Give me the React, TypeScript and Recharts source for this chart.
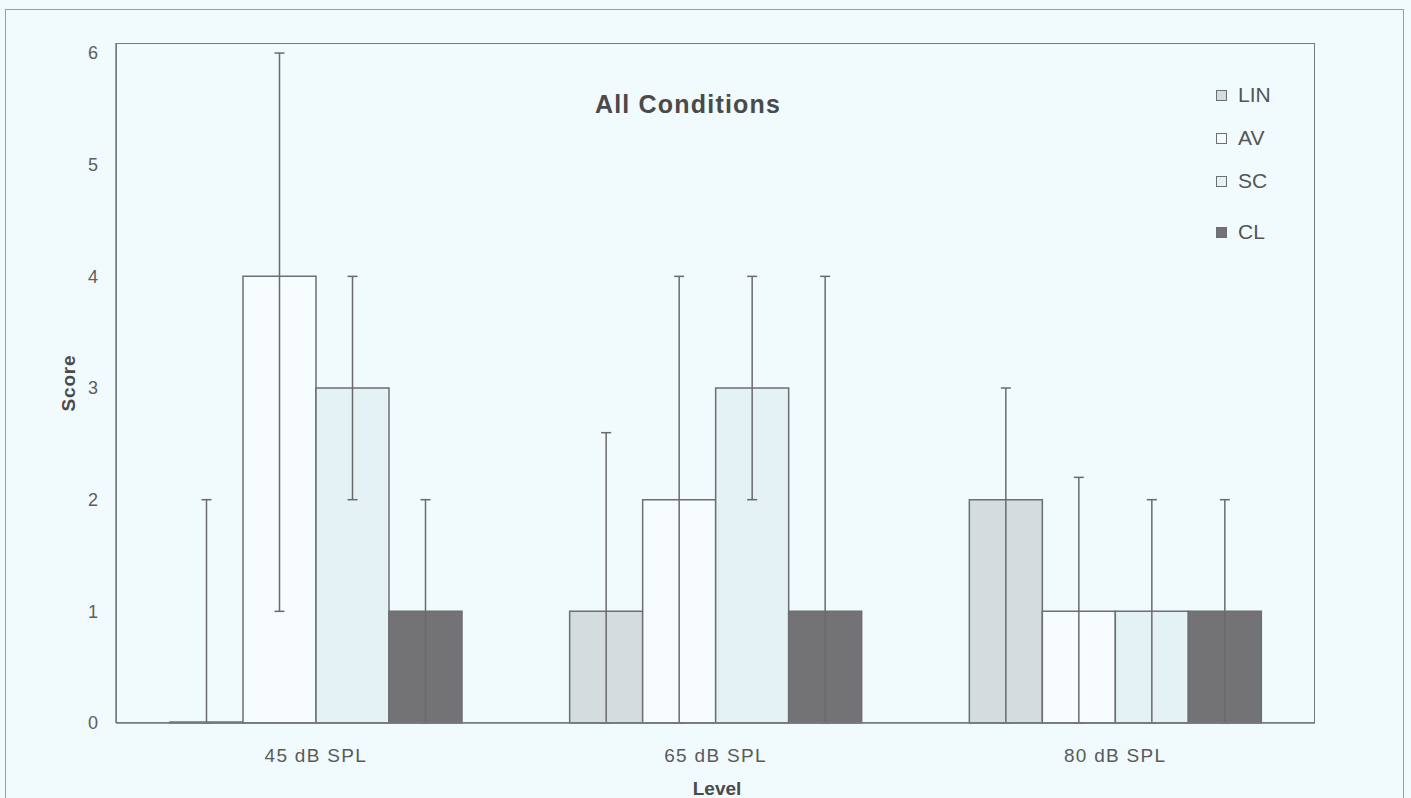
import { BarChart, Bar, XAxis, YAxis, ErrorBar } from 'recharts';

const levels = ['45 dB SPL', '65 dB SPL', '80 dB SPL'];
const yTicks = [0, 1, 2, 3, 4, 5, 6];

// bar heights (score)
const lin = [0, 1, 2];
const av = [4, 2, 1];
const sc = [3, 3, 1];
const cl = [1, 1, 1];

// whisker ends (absolute score values)
const linLow = [0, 0, 0];
const linHigh = [2, 2.6, 3];
const avLow = [1, 0, 0];
const avHigh = [6, 4, 2.2];
const scLow = [2, 2, 0];
const scHigh = [4, 4, 2];
const clLow = [0, 0, 0];
const clHigh = [2, 4, 2];

const err = (v: number, lo: number, hi: number) => [v - lo, hi - v];

const data = levels.map((level, i) => ({
  level,
  LIN: lin[i],
  AV: av[i],
  SC: sc[i],
  CL: cl[i],
  linErr: err(lin[i], linLow[i], linHigh[i]),
  avErr: err(av[i], avLow[i], avHigh[i]),
  scErr: err(sc[i], scLow[i], scHigh[i]),
  clErr: err(cl[i], clLow[i], clHigh[i]),
}));

const series = [
  { key: 'LIN', err: 'linErr', fill: '#d4dcde' },
  { key: 'AV', err: 'avErr', fill: '#f7fdff' },
  { key: 'SC', err: 'scErr', fill: '#e4f1f5' },
  { key: 'CL', err: 'clErr', fill: '#737376' },
];

const BG = '#f1fafc';
const EDGE = '#6c6f71';
const FONT = '"Liberation Sans", Arial, sans-serif';

export default function App() {
  return (
    <div style={{ position: 'absolute', left: 0, top: 0, width: 1411, height: 798, background: BG, fontFamily: FONT, overflow: 'hidden' }}>
      {/* outer frame */}
      <div style={{ position: 'absolute', left: 5, top: 9, width: 1397, height: 820, border: '1.5px solid #9a9d9e' }} />

      <BarChart
        width={1411}
        height={798}
        data={data}
        margin={{ top: 43, right: 96, left: 0, bottom: 0 }}
        barCategoryGap={54}
        barGap={0}
      >
        <XAxis
          dataKey="level"
          height={75}
          tickSize={0}
          tickMargin={26}
          axisLine={{ stroke: '#777a7c', strokeWidth: 1.5 }}
          tick={{ fill: '#5a5a5a', fontSize: 19, fontFamily: FONT, letterSpacing: 1.3 }}
        />
        <YAxis
          width={116}
          domain={[0, 6.09]}
          ticks={yTicks}
          tickSize={0}
          tickMargin={18}
          axisLine={{ stroke: '#777a7c', strokeWidth: 1.5 }}
          tick={{ fill: '#5e5e5e', fontSize: 18, fontFamily: FONT }}
        />
        {series.map((s) => (
          <Bar key={s.key} dataKey={s.key} fill={s.fill} stroke={EDGE} strokeWidth={1.5} minPointSize={1} isAnimationActive={false}>
            <ErrorBar dataKey={s.err} width={5} stroke="#6a6a6a" strokeWidth={1.5} direction="y" />
          </Bar>
        ))}
      </BarChart>

      {/* plot box top / right edges */}
      <div style={{ position: 'absolute', left: 116, top: 43, width: 1199, height: 680, border: '1.5px solid #777a7c', boxSizing: 'border-box', pointerEvents: 'none' }} />

      <svg width={1411} height={798} style={{ position: 'absolute', left: 0, top: 0, pointerEvents: 'none' }}>
        <text x={688} y={104} textAnchor="middle" dominantBaseline="central" fontSize={25} fontWeight="bold" fill="#4a4a4a" fontFamily={FONT} letterSpacing={1.2}>
          All Conditions
        </text>
        <text x={717} y={788} textAnchor="middle" dominantBaseline="central" fontSize={19} fontWeight="bold" fill="#4a4a4a" fontFamily={FONT}>
          Level
        </text>
        <text x={68} y={383} textAnchor="middle" dominantBaseline="central" fontSize={19} fontWeight="bold" fill="#4a4a4a" fontFamily={FONT} transform="rotate(-90 68 383)" letterSpacing={0.8}>
          Score
        </text>
      </svg>

      {/* legend */}
      <div style={{ position: 'absolute', left: 1216, top: 0, pointerEvents: 'none' }}>
        {series.map((s, i) => {
          const cy = [95, 138, 181, 232][i];
          return (
            <div key={s.key} style={{ position: 'absolute', top: cy - 12, left: 0, height: 24, display: 'flex', alignItems: 'center', whiteSpace: 'nowrap' }}>
              <span style={{ display: 'inline-block', width: 9, height: 9, background: s.fill, border: '1.2px solid ' + EDGE }} />
              <span style={{ marginLeft: 11, fontSize: 21, color: '#555', lineHeight: '24px' }}>{s.key}</span>
            </div>
          );
        })}
      </div>
    </div>
  );
}
